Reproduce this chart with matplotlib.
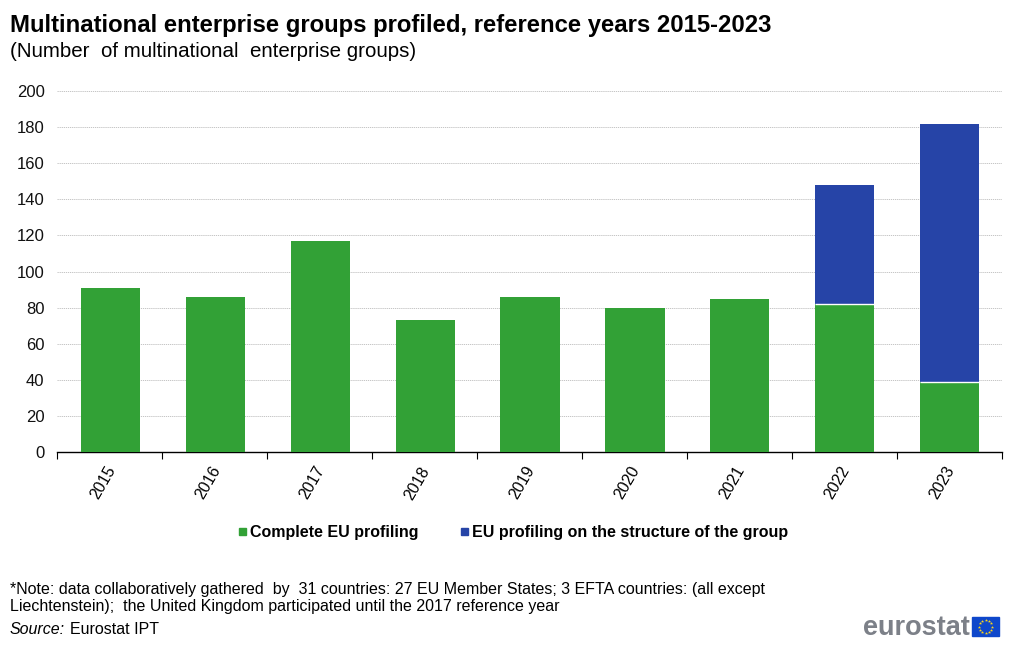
import matplotlib
matplotlib.use('Agg')
import matplotlib.pyplot as plt
from matplotlib.patches import Rectangle
import numpy as np

years = ['2015','2016','2017','2018','2019','2020','2021','2022','2023']
complete = [91,86,117,73,86,80,85,82,39]
structure = [0,0,0,0,0,0,0,66,142.5]
yticks = list(range(0,201,20))
GREEN='#32A136'; BLUE='#2644A7'

plt.rcParams['font.family']=['Liberation Sans','DejaVu Sans']
W,H=1017,646
fig=plt.figure(figsize=(W/100,H/100),dpi=100)
ax=fig.add_axes([57/W,1-452/H,945/W,361/H])
x=np.arange(len(years))
ax.bar(x,complete,width=0.565,color=GREEN,zorder=3)
ax.bar(x,structure,width=0.565,bottom=complete,color=BLUE,zorder=3,edgecolor='none')
for i,s in enumerate(structure):
    if s>0:
        ax.plot([i-0.2825,i+0.2825],[complete[i]]*2,color='white',lw=1,zorder=4,solid_capstyle='butt')
ax.set_xlim(-0.51,8.5); ax.set_ylim(0,200)
ax.set_yticks(yticks)
ax.set_xticks(np.linspace(-0.51,8.5,10))
ax.set_xticklabels(['']*10)
ax.tick_params(axis='x',which='major',length=5,width=0.8,color='black')
ax.tick_params(axis='y',length=0,labelsize=12,pad=9)
for lab in ax.get_yticklabels():
    lab.set_color('#111111')
ax.grid(axis='y',color='#BBBBBB',lw=0.6,ls=(0,(1.5,1)),zorder=0)
for s in ['top','right','left']: ax.spines[s].set_visible(False)
ax.spines['bottom'].set_linewidth(1)
for i,y in enumerate(years):
    ax.annotate(y,(i,0),xycoords=('data','axes fraction'),xytext=(-5.5,-8.5),textcoords='offset points',
                rotation=60,fontsize=11.5,ha='center',va='top',rotation_mode='default')
def T(px,py,s,**k):
    fig.text(px/W,1-py/H,s,va='baseline',**k)
T(10,32,'Multinational enterprise groups profiled, reference years 2015-2023',fontsize=17.23,fontweight='bold')
T(10,57,'(Number  of multinational  enterprise groups)',fontsize=14.78)
T(10,594,'*Note: data collaboratively gathered  by  31 countries: 27 EU Member States; 3 EFTA countries: (all except',fontsize=11.5)
T(10,611,'Liechtenstein);  the United Kingdom participated until the 2017 reference year',fontsize=11.5)
T(10,634,'Source:',fontsize=11.5,fontstyle='italic')
T(70,634,'Eurostat IPT',fontsize=11.5)
for px,c,s in [(239,GREEN,'Complete EU profiling'),(461,BLUE,'EU profiling on the structure of the group')]:
    fig.patches.append(Rectangle((px/W,1-535/H),7/W,7/H,transform=fig.transFigure,color=c))
    T(px+11,537,s,fontsize=11.5,fontweight='bold')
T(863,635,'eurostat',fontsize=19.5,fontweight='bold',color='#7C8088')
fig.patches.append(Rectangle((972/W,1-636/H),27/W,19/H,transform=fig.transFigure,color='#0E47CB'))
t=np.arange(12)*np.pi/6
fig.add_artist(plt.Line2D((985.5+6.5*np.cos(t))/W,(1-626.5/H+6.5*np.sin(t)/H)*np.ones(12),ls='none',marker='*',ms=2.4,color='#FFD617',mew=0))
fig.savefig('out.png',dpi=100)
